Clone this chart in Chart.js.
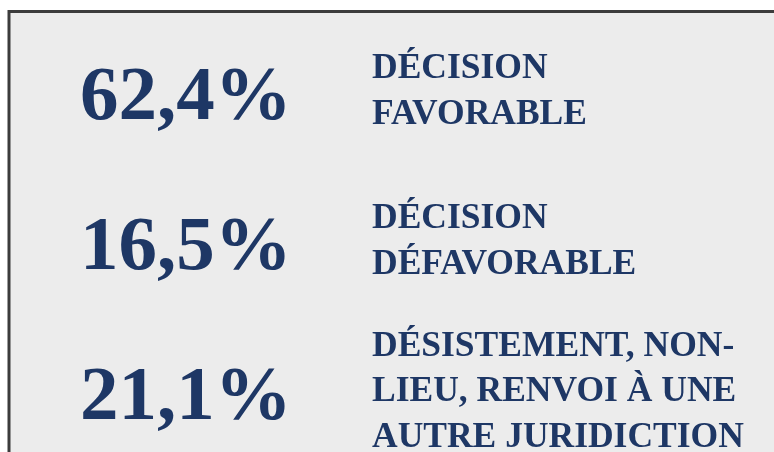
<!DOCTYPE html>
<html>
<head>
<meta charset="utf-8">
<script src="https://cdn.jsdelivr.net/npm/chart.js@4"></script>
<style>
  html, body { margin: 0; padding: 0; background: #ffffff; overflow: hidden; }
  canvas { display: block; }
</style>
</head>
<body>
<canvas id="resultChart" width="774" height="452"></canvas>
<script>
// Data
const categories = [
    ['DÉCISION', 'FAVORABLE'],
    ['DÉCISION', 'DÉFAVORABLE'],
    ['DÉSISTEMENT, NON-', 'LIEU, RENVOI À UNE', 'AUTRE JURIDICTION']
];
const shares = [62.4, 16.5, 21.1];

// UI constants
const COLORS = {
    navy: '#1e3765',
    panel: '#ececec',
    border: '#3c3c3c'
};
const NUMBER_FONT = 'bold 77px "Liberation Serif", "Times New Roman", serif';
const LABEL_FONT = 'bold 35.5px "Liberation Serif", "Times New Roman", serif';
const NUMBER_X = 80;
const LABEL_X = 372;
const LINE_HEIGHT = 45.5;

// French number format
function formatShare(v) {
    return v.toFixed(1).replace('.', ',') + '%';
}

// Grey panel with a dark frame (cut by the right and bottom edges)
const panelPlugin = {
    id: 'panel',
    beforeDraw(chart) {
        const ctx = chart.ctx;
        ctx.save();
        ctx.fillStyle = COLORS.panel;
        ctx.fillRect(9, 11, chart.width, chart.height);
        ctx.strokeStyle = COLORS.border;
        ctx.lineWidth = 3;
        ctx.beginPath();
        ctx.moveTo(9, chart.height + 5);
        ctx.lineTo(9, 11.5);
        ctx.lineTo(chart.width + 5, 11.5);
        ctx.stroke();
        ctx.restore();
    }
};

// Draw each percentage and its label at the row position from the y scale
const textPlugin = {
    id: 'rowText',
    afterDatasetsDraw(chart) {
        const ctx = chart.ctx;
        const meta = chart.getDatasetMeta(0);
        const labels = chart.data.labels;
        const values = chart.data.datasets[0].data;
        ctx.save();
        ctx.fillStyle = COLORS.navy;
        ctx.textAlign = 'left';
        ctx.textBaseline = 'alphabetic';
        meta.data.forEach((bar, i) => {
            const y = bar.y;
            ctx.font = NUMBER_FONT;
            ctx.fillText(formatShare(values[i]), NUMBER_X, y + 29);
            ctx.font = LABEL_FONT;
            const lines = labels[i];
            lines.forEach((line, j) => {
                const dy = (j - (lines.length - 1) / 2) * LINE_HEIGHT;
                ctx.fillText(line, LABEL_X, y + 11 + dy);
            });
        });
        ctx.restore();
    }
};

const ctx = document.getElementById('resultChart').getContext('2d');
new Chart(ctx, {
    type: 'bar',
    data: {
        labels: categories,
        datasets: [{
            data: shares,
            backgroundColor: 'rgba(0, 0, 0, 0)',
            borderWidth: 0
        }]
    },
    options: {
        indexAxis: 'y',
        responsive: false,
        animation: false,
        layout: {
            padding: { top: 90, bottom: 62, left: 0, right: 0 }
        },
        scales: {
            x: { display: false, min: 0, max: 100 },
            y: { display: false, offset: false }
        },
        plugins: {
            legend: { display: false },
            tooltip: { enabled: false }
        }
    },
    plugins: [panelPlugin, textPlugin]
});
</script>
</body>
</html>
